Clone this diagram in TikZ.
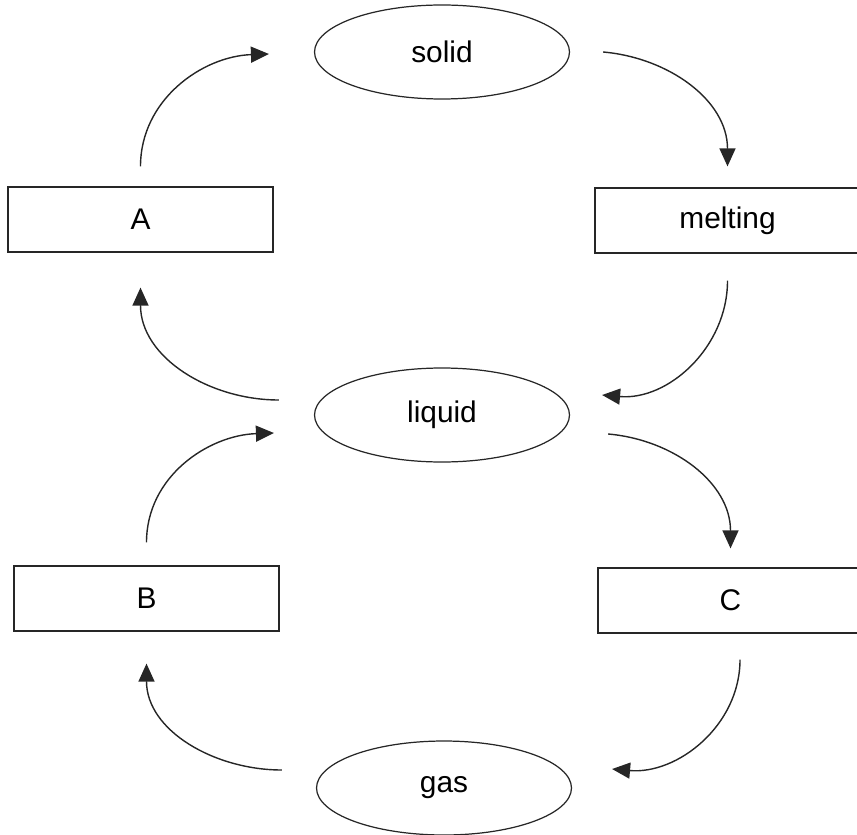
\documentclass[tikz,border=0pt]{standalone}
\usepackage{fontspec}
\setmainfont{Liberation Sans}
\usetikzlibrary{shapes.geometric,arrows.meta}

\begin{document}
\begin{tikzpicture}[x=0.02cm,y=-0.02cm,
    state/.style={draw=black!85,line width=0.7pt,ellipse,minimum width=5.1cm,minimum height=1.88cm,inner sep=0pt,font=\fontsize{17}{20}\selectfont},
    stage/.style={draw=black!85,line width=0.7pt,rectangle,minimum width=5.3cm,minimum height=1.3cm,inner sep=0pt,font=\fontsize{17}{20}\selectfont},
    flow/.style={draw=black!85,line width=0.8pt,-{Triangle[length=3.6mm,width=3.2mm]}}]
      \useasboundingbox (0,0) rectangle (857,834);
      % states
      \node[state] (solid)  at (442,52)  {solid};
      \node[state] (liquid) at (442,415) {liquid};
      \node[state] (gas)    at (444,788) {gas};
      % stages
      \node[stage] (A)       at (140.5,219.5) {A};
      \node[stage] (melting) at (727.5,220.5) {melting};
      \node[stage] (B)       at (146.5,598.5) {B};
      \node[stage] (C)       at (730.5,600.5) {C};
      % upper loop
      \draw[flow] ([yshift=0.4cm]A.north) to[out=90,in=182] ([xshift=-0.9cm,yshift=-0.04cm]solid.west);
      \draw[flow] ([xshift=0.66cm]solid.east) to[out=-5,in=90] ([yshift=0.42cm]melting.north);
      \draw[flow] ([yshift=-0.54cm]melting.south) to[out=-90,in=-5] ([xshift=0.64cm,yshift=0.4cm]liquid.east);
      \draw[flow] ([xshift=-0.7cm,yshift=0.3cm]liquid.west) to[out=180,in=-90] ([yshift=-0.7cm]A.south);
      % lower loop
      \draw[flow] ([yshift=0.46cm]B.north) to[out=90,in=182] ([xshift=-0.8cm,yshift=-0.36cm]liquid.west);
      \draw[flow] ([xshift=0.76cm,yshift=-0.38cm]liquid.east) to[out=-5,in=90] ([yshift=0.38cm]C.north);
      \draw[flow] ([xshift=0.19cm,yshift=-0.52cm]C.south) to[out=-90,in=-5] ([xshift=0.8cm,yshift=0.38cm]gas.east);
      \draw[flow] ([xshift=-0.68cm,yshift=0.36cm]gas.west) to[out=180,in=-90] ([yshift=-0.64cm]B.south);
\end{tikzpicture}
\end{document}
